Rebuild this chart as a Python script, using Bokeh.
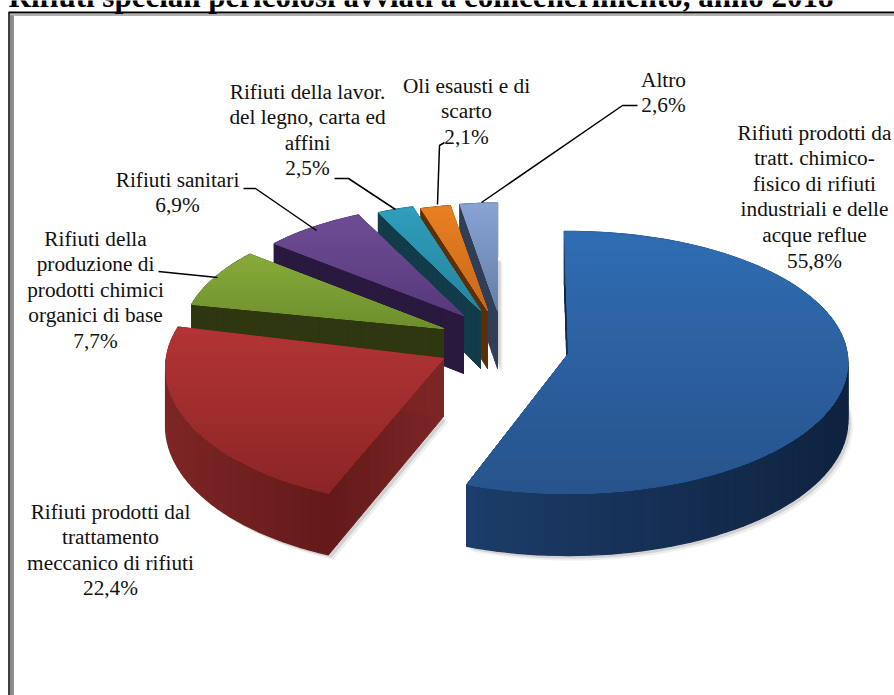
import math
from bokeh.plotting import figure
from bokeh.models import Range1d
from bokeh.core.properties import value
from bokeh.embed import file_html
from bokeh.resources import INLINE

TITLE = "Rifiuti speciali pericolosi avviati a coincenerimento, anno 2018"
shares = [55.8, 22.4, 7.7, 6.9, 2.5, 2.1, 2.6]
label_lines = [
    ["Rifiuti prodotti da", "tratt. chimico-", "fisico di rifiuti", "industriali e delle", "acque reflue", "55,8%"],
    ["Rifiuti prodotti dal", "trattamento", "meccanico di rifiuti", "22,4%"],
    ["Rifiuti della", "produzione di", "prodotti chimici", "organici di base", "7,7%"],
    ["Rifiuti sanitari", "6,9%"],
    ["Rifiuti della lavor.", "del legno, carta ed", "affini", "2,5%"],
    ["Oli esausti e di", "scarto", "2,1%"],
    ["Altro", "2,6%"],
]
top_light = ["#2F6CB2", "#B23434", "#87AA3B", "#6E4C94", "#2F9DBB", "#E87F22", "#87A3D2"]
top_dark = ["#27548C", "#8C2525", "#6E8F2C", "#58397C", "#26859E", "#C96A1A", "#6580A8"]
wall_a = ["#1C3D6A", "#7E2626", "#2E3710", "#2A193F", "#123C4A", "#5C3008", "#303E56"]
wall_b = ["#0F2340", "#641A1A", "#2E3710", "#2A193F", "#123C4A", "#5C3008", "#303E56"]

apex = [(568, 353), (443, 358), (443, 328), (463, 315), (480, 310), (487, 310), (497, 310)]
scale_x = [0.995, 0.99, 0.93, 0.91, 0.885, 0.87, 0.88]
scale_y = [1.0, 1.05, 0.94, 0.91, 0.885, 0.87, 0.88]
rotation = [-0.9, 2.0, 0, 0, 0, 0, 0]
label_anchor = [(814, 132), (110, 511), (95, 238), (177, 179), (307, 91), (466, 85), (663, 79)]
leaders = [
    [(158, 271), (217, 277)],
    [(243, 188), (255, 188), (316, 230)],
    [(334, 178), (348, 178), (395, 209)],
    [(444, 142), (439, 145), (437, 204)],
    [(637, 105), (622, 105), (481, 202)],
]
RX, RY, GP, DEPTH = 280.0, 130.4, 0.0687, 58.0
W, H = 894, 695


def mix(a, b, t):
    ca = [int(a[i:i + 2], 16) for i in (1, 3, 5)]
    cb = [int(b[i:i + 2], 16) for i in (1, 3, 5)]
    return "#%02x%02x%02x" % tuple(round(x + (y - x) * t) for x, y in zip(ca, cb))


def project(i, deg):
    t = math.radians(deg + rotation[i])
    u, v = math.sin(t), math.cos(t)
    d = 1 + GP * v
    return (apex[i][0] + scale_x[i] * RX * u / d, apex[i][1] - scale_y[i] * RY * v / d)


def depth_at(i, deg):
    return DEPTH * (1 - GP * math.cos(math.radians(deg + rotation[i])))


def clip_below(poly, y0):
    out = []
    for k, (x1, y1) in enumerate(poly):
        x2, y2 = poly[(k + 1) % len(poly)]
        if y1 >= y0:
            out.append((x1, y1))
        if (y1 >= y0) != (y2 >= y0):
            t = (y0 - y1) / (y2 - y1)
            out.append((x1 + (x2 - x1) * t, y0))
    return out


p = figure(width=W, height=H, output_backend="svg", toolbar_location=None,
           x_range=Range1d(0, W), y_range=Range1d(H, 0), min_border=0,
           outline_line_color=None, background_fill_color="white")
p.axis.visible = False
p.grid.visible = False


def fill(poly, color, alpha=1.0, edge=True, lw=1.0):
    p.patch([q[0] for q in poly], [q[1] for q in poly], fill_color=color, fill_alpha=alpha,
            line_color=color if edge else None, line_width=lw, line_alpha=alpha)


bounds = [0.0]
for s in shares:
    bounds.append(bounds[-1] + s * 3.6)

for xs, ys, c, w in [
    ([8.5, 8.5], [12, H], "#000000", 1.5), ([10.5, 10.5], [14, H], "#888888", 2), ([12.5, 12.5], [15, H], "#222222", 1),
    ([8, W], [12, 12], "#000000", 1.8), ([11, W], [14.5, 14.5], "#999999", 1.6),
]:
    p.line(xs, ys, line_color=c, line_width=w)

p.text([8], [-4.5], text=[TITLE], text_font=value("Liberation Serif"), text_font_style="bold",
       text_font_size="31px", text_color="#000000", text_baseline="alphabetic", text_align="left")

for i in range(len(shares) - 1, -1, -1):
    a0, a1 = bounds[i], bounds[i + 1]
    n = max(8, int((a1 - a0) / 2))
    degs = [a0 + (a1 - a0) * k / n for k in range(n + 1)]
    arc = [project(i, d) for d in degs]
    drop = [depth_at(i, d) for d in degs]
    top = [apex[i]] + arc
    if i in (0, 1, 6):
        for off, al in ((5, 0.10), (3, 0.18)):
            fill([(x + off, y + dz + off) for (x, y), dz in zip(arc, drop)]
                 + [(apex[i][0] + off, apex[i][1] + DEPTH + off)], "#555555", al, edge=False)
    for edge_pt, dz_edge in ((arc[0], drop[0]), (arc[-1], drop[-1])):
        m = 14
        for k in range(m):
            t0, t1 = k / m, (k + 1) / m
            x0 = apex[i][0] + (edge_pt[0] - apex[i][0]) * t0
            y0 = apex[i][1] + (edge_pt[1] - apex[i][1]) * t0
            x1 = apex[i][0] + (edge_pt[0] - apex[i][0]) * t1
            y1 = apex[i][1] + (edge_pt[1] - apex[i][1]) * t1
            d0 = DEPTH + (dz_edge - DEPTH) * t0
            d1 = DEPTH + (dz_edge - DEPTH) * t1
            fill([(x0, y0), (x1, y1), (x1, y1 + d1), (x0, y0 + d0)], mix(wall_a[i], wall_b[i], t1))
    x_lo = min(q[0] for q in arc)
    x_hi = max(q[0] for q in arc)
    for k in range(n):
        q0, q1 = arc[k], arc[k + 1]
        if i == 0:
            t = 1 - abs(q0[0] - x_lo) / max(1, x_hi - x_lo)
            col = mix(wall_b[i], wall_a[i], t)
        else:
            t = (q0[0] - x_lo) / max(1, x_hi - x_lo)
            col = mix(wall_a[i], wall_b[i], t)
        fill([q0, q1, (q1[0], q1[1] + drop[k + 1]), (q0[0], q0[1] + drop[k])], col, lw=1.4)
    y_lo = min(q[1] for q in top)
    y_hi = max(q[1] for q in top)
    bands = 24
    for b in range(bands):
        y0 = y_lo + (y_hi - y_lo) * b / bands
        poly = clip_below(top, y0)
        if len(poly) >= 3:
            fill(poly, mix(top_light[i], top_dark[i], b / (bands - 1)), edge=(b == 0))

for seg in leaders:
    p.line([q[0] for q in seg], [q[1] for q in seg], line_color="#000000", line_width=1.5)

LINE_H = 25.6
for lines, (cx, y0) in zip(label_lines, label_anchor):
    p.text([cx] * len(lines), [y0 + LINE_H * k for k in range(len(lines))], text=lines,
           text_font=value("Liberation Serif"), text_font_size="21.3px", text_color="#111111",
           text_align="center", text_baseline="middle")

open("out.html", "w").write(file_html(p, INLINE))
